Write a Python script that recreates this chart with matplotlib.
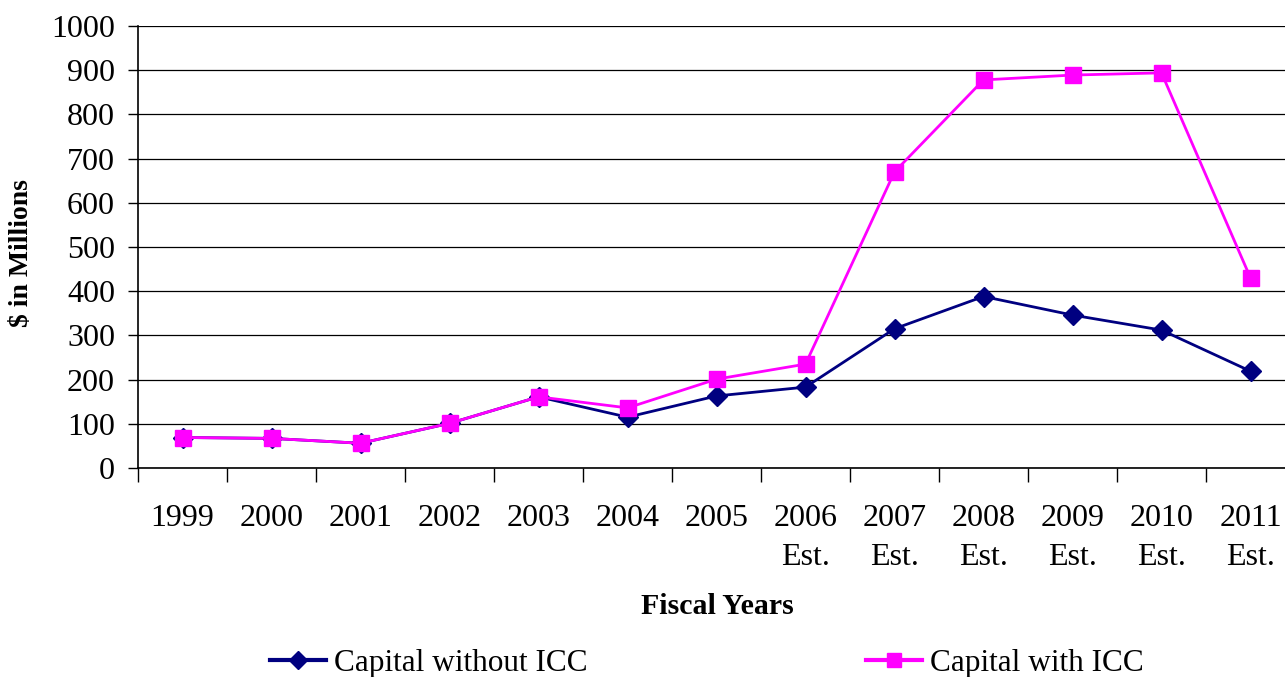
import matplotlib
matplotlib.use('Agg')
import matplotlib.pyplot as plt
import numpy as np

# Fiscal years and values ($ in millions)
years = ['1999', '2000', '2001', '2002', '2003', '2004', '2005',
         '2006\nEst.', '2007\nEst.', '2008\nEst.', '2009\nEst.', '2010\nEst.', '2011\nEst.']
capital_without_icc = [69, 67, 56, 101, 161, 115, 163, 183, 315, 388, 346, 312, 219]
capital_with_icc = [69, 67, 56, 101, 161, 136, 201, 235, 670, 878, 889, 894, 430]

plt.rcParams['font.family'] = ['Liberation Serif', 'DejaVu Serif']

fig = plt.figure(figsize=(12.85, 6.77), dpi=100)
ax = fig.add_axes([138 / 1285, 1 - 468 / 677, (1295 - 138) / 1285, (468 - 26) / 677])

x = np.arange(len(years))
ax.plot(x, capital_without_icc, color='#000080', linewidth=2, marker='D',
        markersize=10, label='Capital without ICC', zorder=3)
ax.plot(x, capital_with_icc, color='#FF00FF', linewidth=2, marker='s',
        markersize=11, label='Capital with ICC', zorder=4)

ax.set_xlim(-0.5, len(years) - 0.5)
ax.set_ylim(0, 1000)
ax.set_yticks(np.arange(0, 1001, 100))
ax.yaxis.grid(True, color='black', linewidth=0.9)
ax.set_axisbelow(True)

ax.set_xticks(x)
ax.set_xticklabels(years, fontsize=23, linespacing=1.45)
ax.set_xticks(np.arange(-0.5, len(years), 1), minor=True)
ax.tick_params(axis='x', which='major', length=0, pad=26)
ax.tick_params(axis='x', which='minor', length=10, width=1, direction='out')
ax.tick_params(axis='y', labelsize=23, length=7.5, width=1, direction='out', pad=9)

for side in ['top', 'right']:
    ax.spines[side].set_visible(False)
ax.spines['left'].set_linewidth(1.2)
ax.spines['bottom'].set_linewidth(1.2)

fig.text(22 / 1285, 1 - 253 / 677, '$ in Millions', fontsize=20, fontweight='bold',
         rotation=90, ha='center', va='center')
fig.text(717 / 1285, 1 - 607 / 677, 'Fiscal Years', fontsize=21.5, fontweight='bold',
         ha='center', va='center')

leg = fig.legend(loc='center', bbox_to_anchor=(707 / 1285, 1 - 663 / 677), ncol=2,
                 frameon=False, fontsize=22.5, handlelength=1.8, handletextpad=0.25,
                 columnspacing=8.9, borderpad=0, markerscale=0.9)
for line in leg.get_lines():
    line.set_linewidth(3)

fig.savefig('out.png', dpi=100)
